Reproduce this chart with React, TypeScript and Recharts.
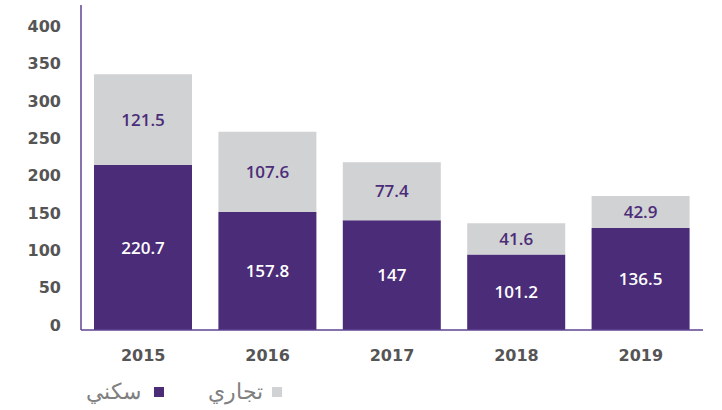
import React from "react";
import { BarChart, Bar, XAxis, YAxis, LabelList } from "recharts";

const years = ["2015", "2016", "2017", "2018", "2019"];
const residential = [220.7, 157.8, 147, 101.2, 136.5];
const commercial = [121.5, 107.6, 77.4, 41.6, 42.9];
const yTicks = [0, 50, 100, 150, 200, 250, 300, 350, 400];
const residentialName = "سكني";
const commercialName = "تجاري";

const data = years.map((y, i) => ({
  year: y,
  residential: residential[i],
  commercial: commercial[i],
}));

const PURPLE = "#4b2c78";
const GRAY = "#d1d2d4";
const AXIS = "#5e4391";
const TICK = "#555555";
const FONT = "'Open Sans', 'DejaVu Sans', sans-serif";
const TICKFONT = "'DejaVu Sans', sans-serif";

export default function App() {
  return (
    <div style={{ position: "absolute", left: 0, top: 0, width: 722, height: 410, background: "#fff" }}>
      <BarChart
        width={722}
        height={410}
        data={data}
        margin={{ top: 5, right: 19, bottom: 50, left: 0 }}
        barSize={98}
      >
        <XAxis
          dataKey="year"
          axisLine={{ stroke: AXIS, strokeWidth: 1.5 }}
          tickLine={false}
          height={30}
          tick={{ fill: TICK, fontSize: 16, fontWeight: 700, fontFamily: TICKFONT }}
          tickMargin={14}
        />
        <YAxis
          domain={[0, 435]}
          ticks={yTicks}
          width={81}
          axisLine={{ stroke: AXIS, strokeWidth: 1.5 }}
          tickLine={false}
          tick={{ fill: TICK, fontSize: 16, fontWeight: 700, fontFamily: TICKFONT, dy: -5 }}
          tickMargin={14}
          interval={0}
        />
        <Bar dataKey="residential" stackId="a" fill={PURPLE} isAnimationActive={false}>
          <LabelList
            dataKey="residential"
            position="center"
            fill="#ffffff"
            style={{ fontSize: 17, fontWeight: 600, fontFamily: FONT }}
          />
        </Bar>
        <Bar dataKey="commercial" stackId="a" fill={GRAY} isAnimationActive={false}>
          <LabelList
            dataKey="commercial"
            position="center"
            fill={PURPLE}
            style={{ fontSize: 17, fontWeight: 600, fontFamily: FONT }}
          />
        </Bar>
      </BarChart>
      <div
        style={{
          position: "absolute",
          left: 86,
          top: 379,
          display: "flex",
          alignItems: "center",
          fontFamily: "'DejaVu Sans', sans-serif",
          fontSize: 22,
          color: "#808080",
          fontWeight: 300,
        }}
      >
        <span dir="rtl">{residentialName}</span>
        <span style={{ display: "inline-block", width: 10, height: 10, background: PURPLE, marginLeft: 13 }} />
        <span dir="rtl" style={{ marginLeft: 44 }}>{commercialName}</span>
        <span style={{ display: "inline-block", width: 10, height: 10, background: GRAY, marginLeft: 9 }} />
      </div>
    </div>
  );
}
